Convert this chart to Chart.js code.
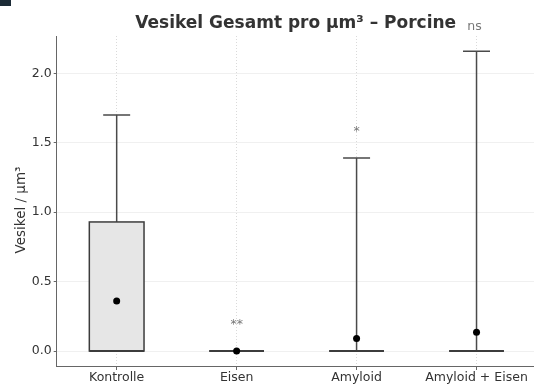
<!DOCTYPE html>
<html>
<head>
<meta charset="utf-8">
<script src="https://cdn.jsdelivr.net/npm/chart.js@4"></script>
<style>
  html, body { margin: 0; padding: 0; background: #fff; overflow: hidden; }
  #wrap { position: relative; width: 534px; height: 386px; overflow: hidden; }
  #corner { position: absolute; left: 0; top: 0; width: 11px; height: 6px; background: #1c2b36; }
</style>
</head>
<body>
<div id="wrap">
  <canvas id="chart" width="540" height="386"></canvas>
  <div id="corner"></div>
</div>
<script>
// Box plot data per group
const categories = ['Kontrolle', 'Eisen', 'Amyloid', 'Amyloid + Eisen'];
const whiskerLow = [0, 0, 0, 0];
const q1 = [0, 0, 0, 0];
const median = [0, 0, 0, 0];
const q3 = [0.93, 0, 0, 0];
const whiskerHigh = [1.70, 0, 1.39, 2.16];
const means = [0.36, 0.0, 0.09, 0.135];

// Significance marks above the groups
const sigLabels = ['', '**', '*', 'ns'];
const sigValues = [null, 0.19, 1.58, 2.34];

const yTicks = [0, 0.5, 1.0, 1.5, 2.0];

const FONT = "'DejaVu Sans', sans-serif";

const boxPlugin = {
    id: 'boxes',
    beforeDatasetsDraw(chart) {
        const ctx = chart.ctx;
        const x = chart.scales.x;
        const y = chart.scales.y;
        const step = x.getPixelForValue(1) - x.getPixelForValue(0);
        const boxW = step * 0.456;
        const capW = step * 0.225;
        ctx.save();
        categories.forEach((c, i) => {
            const cx = x.getPixelForValue(i);
            // whiskers
            ctx.strokeStyle = '#4a4a4a';
            ctx.lineWidth = 1.5;
            ctx.beginPath();
            ctx.moveTo(cx, y.getPixelForValue(q3[i]));
            ctx.lineTo(cx, y.getPixelForValue(whiskerHigh[i]));
            ctx.moveTo(cx - capW / 2, y.getPixelForValue(whiskerHigh[i]));
            ctx.lineTo(cx + capW / 2, y.getPixelForValue(whiskerHigh[i]));
            ctx.moveTo(cx, y.getPixelForValue(q1[i]));
            ctx.lineTo(cx, y.getPixelForValue(whiskerLow[i]));
            ctx.moveTo(cx - capW / 2, y.getPixelForValue(whiskerLow[i]));
            ctx.lineTo(cx + capW / 2, y.getPixelForValue(whiskerLow[i]));
            ctx.stroke();
            // box
            const top = y.getPixelForValue(q3[i]);
            const bot = y.getPixelForValue(q1[i]);
            ctx.fillStyle = '#e6e6e6';
            ctx.fillRect(cx - boxW / 2, top, boxW, bot - top);
            ctx.strokeStyle = '#3c3c3c';
            ctx.lineWidth = 1.5;
            ctx.strokeRect(cx - boxW / 2, top, boxW, bot - top);
            // median
            ctx.lineWidth = 2;
            ctx.beginPath();
            ctx.moveTo(cx - boxW / 2, y.getPixelForValue(median[i]));
            ctx.lineTo(cx + boxW / 2, y.getPixelForValue(median[i]));
            ctx.stroke();
        });
        ctx.restore();
    },
    afterDraw(chart) {
        const ctx = chart.ctx;
        const x = chart.scales.x;
        const y = chart.scales.y;
        ctx.save();
        // significance labels
        ctx.fillStyle = '#777';
        ctx.font = '12.5px ' + FONT;
        ctx.textAlign = 'center';
        ctx.textBaseline = 'middle';
        sigLabels.forEach((s, i) => {
            if (!s) return;
            ctx.fillText(s, x.getPixelForValue(i) - (s === 'ns' ? 2 : 0), y.getPixelForValue(sigValues[i]));
        });
        // title
        ctx.fillStyle = '#333';
        ctx.font = 'bold 17px ' + FONT;
        ctx.fillText('Vesikel Gesamt pro µm³ – Porcine', 295.7, 23.5);
        // y axis label
        ctx.font = '13.5px ' + FONT;
        ctx.translate(21, 210);
        ctx.rotate(-Math.PI / 2);
        ctx.fillText('Vesikel / µm³', 0, 0);
        ctx.restore();
    }
};

new Chart(document.getElementById('chart'), {
    type: 'line',
    data: {
        labels: categories,
        datasets: [{
            label: 'Mittelwert',
            data: means,
            showLine: false,
            pointRadius: 3.5,
            pointHoverRadius: 3.5,
            pointBackgroundColor: '#000',
            pointBorderColor: '#000',
            borderWidth: 0
        }]
    },
    options: {
        responsive: false,
        animation: false,
        devicePixelRatio: 1,
        layout: { padding: { top: 36, right: 3.3, left: 0, bottom: 0 } },
        plugins: {
            legend: { display: false },
            tooltip: { enabled: false },
            title: { display: false }
        },
        scales: {
            x: {
                offset: true,
                grid: {
                    offset: false,
                    color: '#d0d0d0',
                    lineWidth: 0.8,
                    drawTicks: true,
                    tickLength: 4,
                    tickColor: '#666',
                    tickWidth: 1,
                    tickBorderDash: []
                },
                border: { color: '#666', width: 1, dash: [1, 2] },
                ticks: {
                    color: '#333',
                    font: { family: FONT, size: 12.5 },
                    padding: 0,
                    maxRotation: 0,
                    autoSkip: false
                },
                afterFit(scale) { scale.height = 20; }
            },
            y: {
                min: -0.108,
                max: 2.27,
                grid: {
                    color: '#ececec',
                    lineWidth: 0.8,
                    drawTicks: true,
                    tickLength: 3,
                    tickColor: '#666',
                    tickWidth: 1
                },
                border: { color: '#666', width: 1 },
                ticks: {
                    color: '#333',
                    font: { family: FONT, size: 12.5 },
                    padding: 2,
                    callback: v => v.toFixed(1)
                },
                afterBuildTicks(scale) { scale.ticks = yTicks.map(v => ({ value: v })); },
                afterFit(scale) { scale.width = 56.7; }
            }
        }
    },
    plugins: [boxPlugin]
});
</script>
</body>
</html>
